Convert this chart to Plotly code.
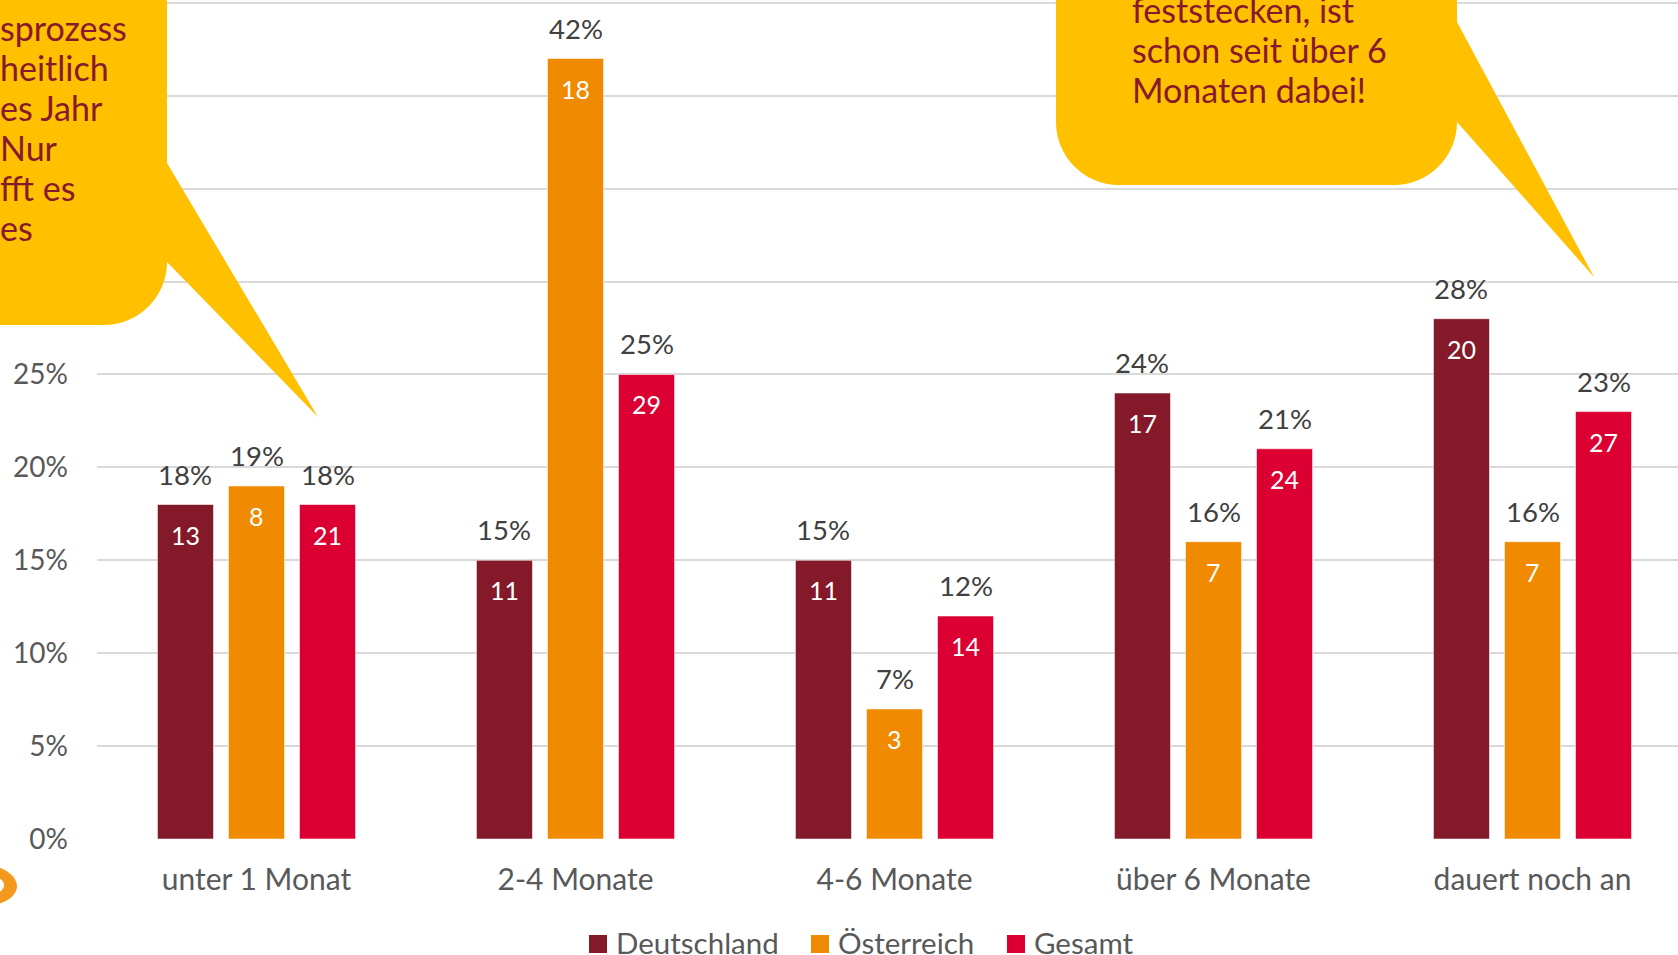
import plotly.graph_objects as go

# --- data -----------------------------------------------------------------
categories = ["unter 1 Monat", "2-4 Monate", "4-6 Monate", "über 6 Monate", "dauert noch an"]
series_names = ["Deutschland", "Österreich", "Gesamt"]

deutschland_pct = [18, 15, 15, 24, 28]
oesterreich_pct = [19, 42, 7, 16, 16]
gesamt_pct = [18, 25, 12, 21, 23]

deutschland_n = [13, 11, 11, 17, 20]
oesterreich_n = [8, 18, 3, 7, 7]
gesamt_n = [21, 29, 14, 24, 27]

# gridlines run up to 45 %, labels only where they are not hidden by the bubble
y_tick_values = [0, 5, 10, 15, 20, 25, 30, 35, 40, 45]
y_tick_labels = ["0%", "5%", "10%", "15%", "20%", "25%", "", "", "", ""]

callout_left_lines = ["sprozess", "heitlich", "es Jahr", "Nur", "fft es", "es"]
callout_right_lines = ["feststecken, ist", "schon seit über 6", "Monaten dabei!"]

# --- styling --------------------------------------------------------------
colors = ["#841A29", "#F08A00", "#DC0032"]
callout_fill = "#FFC000"
callout_text = "#86192B"
font_family = "Lato, 'Open Sans', sans-serif"

W, H = 1678, 955
M_L, M_R, M_T, M_B = 97, 0, 0, 116
PLOT_W = W - M_L - M_R
PLOT_H = H - M_T - M_B

BARGAP = 0.332
BARGROUPGAP = 0.211
SLOT = (1 - BARGAP) / 3


def px(x):
    """pixel x -> paper x"""
    return (x - M_L) / PLOT_W


def py(y):
    """pixel y (from top) -> paper y"""
    return (H - M_B - y) / PLOT_H


def pt(x, y):
    return f"{px(x):.5f},{py(y):.5f}"


pct = [deutschland_pct, oesterreich_pct, gesamt_pct]
counts = [deutschland_n, oesterreich_n, gesamt_n]
xs = list(range(len(categories)))

fig = go.Figure()
for k, name in enumerate(series_names):
    fig.add_trace(go.Bar(
        name=name, x=xs, y=pct[k],
        marker=dict(color=colors[k], line=dict(color="rgba(255,255,255,0.55)", width=1)),
        showlegend=False, hoverinfo="skip",
    ))

annotations = []
for k in range(3):
    off = (k - 1) * SLOT
    for i in xs:
        annotations.append(dict(
            x=i + off, y=pct[k][i], xref="x", yref="y", text=f"{pct[k][i]}%",
            showarrow=False, yanchor="bottom", yshift=12,
            font=dict(family=font_family, size=27.5, color="#404040"),
        ))
        annotations.append(dict(
            x=i + off, y=pct[k][i], xref="x", yref="y", text=str(counts[k][i]),
            showarrow=False, yanchor="middle", yshift=-30,
            font=dict(family=font_family, size=25, color="#FFFFFF"),
        ))

# speech bubbles
K = 0.5523
r = 63
left_bubble = (
    f"M{pt(-60, -60)} L{pt(167, -60)} L{pt(167, 163)} L{pt(318, 417)} L{pt(167, 262)} "
    f"C{pt(167, 262 + r * K)} {pt(167 - r + r * K, 325)} {pt(167 - r, 325)} "
    f"L{pt(-60, 325)} Z"
)
right_bubble = (
    f"M{pt(1056, -60)} L{pt(1457, -60)} L{pt(1457, 22)} L{pt(1594, 277)} L{pt(1457, 122)} "
    f"C{pt(1457, 122 + r * K)} {pt(1457 - r + r * K, 185)} {pt(1457 - r, 185)} "
    f"L{pt(1056 + r, 185)} "
    f"C{pt(1056 + r - r * K, 185)} {pt(1056, 122 + r * K)} {pt(1056, 122)} Z"
)
logo = (
    f"M{pt(-30, 866)} C{pt(0, 860)} {pt(18, 876)} {pt(17, 887)} "
    f"C{pt(16, 898)} {pt(0, 909)} {pt(-30, 906)} Z"
)
logo_notch = (
    f"M{pt(-20, 876)} C{pt(-5, 873)} {pt(5, 880)} {pt(4, 886)} "
    f"C{pt(3, 892)} {pt(-5, 895)} {pt(-20, 894)} Z"
)

shapes = [
    dict(type="path", path=left_bubble, xref="paper", yref="paper",
         fillcolor=callout_fill, line=dict(width=0), layer="above"),
    dict(type="path", path=right_bubble, xref="paper", yref="paper",
         fillcolor=callout_fill, line=dict(width=0), layer="above"),
    dict(type="path", path=logo, xref="paper", yref="paper",
         fillcolor="#F39A1E", line=dict(width=0), layer="above"),
    dict(type="path", path=logo_notch, xref="paper", yref="paper",
         fillcolor="#FFFFFF", line=dict(width=0), layer="above"),
]

CALLOUT_FS = 34
for j, line in enumerate(callout_left_lines):
    baseline = 40 + 40 * j
    annotations.append(dict(
        x=px(-2), y=py(baseline - 0.36 * CALLOUT_FS), xref="paper", yref="paper",
        text=line, showarrow=False, xanchor="left", yanchor="middle",
        font=dict(family=font_family, size=CALLOUT_FS, color=callout_text),
    ))
for j, line in enumerate(callout_right_lines):
    baseline = 22 + 40 * j
    annotations.append(dict(
        x=px(1130), y=py(baseline - 0.36 * CALLOUT_FS), xref="paper", yref="paper",
        text=line, showarrow=False, xanchor="left", yanchor="middle",
        font=dict(family=font_family, size=CALLOUT_FS, color=callout_text),
    ))

# legend row
legend_x = [589, 811, 1007]
for k, name in enumerate(series_names):
    x0 = legend_x[k]
    shapes.append(dict(type="rect", xref="paper", yref="paper",
                       x0=px(x0), x1=px(x0 + 18), y0=py(953), y1=py(935),
                       fillcolor=colors[k], line=dict(width=0), layer="above"))
    annotations.append(dict(
        x=px(x0 + 25), y=py(943), xref="paper", yref="paper", text=name,
        showarrow=False, xanchor="left", yanchor="middle",
        font=dict(family=font_family, size=29.5, color="#595959"),
    ))

fig.update_layout(
    width=W, height=H,
    margin=dict(l=M_L, r=M_R, t=M_T, b=M_B, pad=0),
    paper_bgcolor="white", plot_bgcolor="white",
    barmode="group", bargap=BARGAP, bargroupgap=BARGROUPGAP,
    showlegend=False,
    font=dict(family=font_family, color="#595959"),
    xaxis=dict(
        range=[-0.5, -0.5 + PLOT_W / 319], tickvals=xs, ticktext=categories,
        showgrid=False, zeroline=False, showline=False, ticks="",
        tickfont=dict(family=font_family, size=30, color="#595959"),
        ticklabelstandoff=20, fixedrange=True,
    ),
    yaxis=dict(
        range=[0, 45.15], tickvals=y_tick_values, ticktext=y_tick_labels,
        showgrid=True, gridcolor="#D9D9D9", gridwidth=2, zeroline=False,
        showline=False, ticks="",
        tickfont=dict(family=font_family, size=28, color="#595959"),
        ticklabelstandoff=28, fixedrange=True,
    ),
    shapes=shapes, annotations=annotations,
)

fig.write_html("out.html", config={"displayModeBar": False})
